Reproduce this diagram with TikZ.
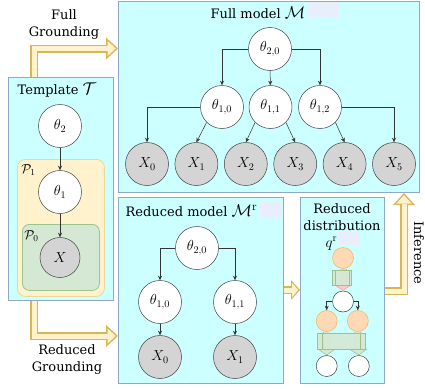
\documentclass[tikz,border=0pt]{standalone}
\usepackage{fix-cm}
\usepackage[no-math]{fontspec}
\setmainfont{DejaVu Serif}
\usepackage{amsmath,amssymb}
\usetikzlibrary{arrows.meta,positioning,calc}
\definecolor{boxfill}{HTML}{CCFFFF}
\definecolor{boxline}{HTML}{8FA8C8}
\definecolor{yfill}{HTML}{FFF2CC}
\definecolor{yline}{HTML}{D6B656}
\definecolor{plateline}{HTML}{EAD79A}
\definecolor{gfill}{HTML}{D5E8D4}
\definecolor{gline}{HTML}{9CC48A}
\definecolor{ofill}{HTML}{FFD9B3}
\definecolor{oline}{HTML}{E8B65E}
\definecolor{pfill}{HTML}{F8CECC}
\definecolor{pline}{HTML}{EDA5A2}
\definecolor{obsfill}{HTML}{D4D4D4}
\definecolor{lav}{HTML}{E8EEFB}
\newcommand{\titlemath}[1]{{\fontsize{17}{17}\selectfont$#1$}}
\tikzset{
  panel/.style={draw=boxline, fill=boxfill, anchor=north west, inner sep=0pt, line width=0.8pt},
  plate/.style={rounded corners=8pt, anchor=north west, inner sep=0pt, line width=0.8pt},
  latent/.style={circle, draw=black!75, fill=white, minimum size=43pt, inner sep=0pt, line width=0.5pt, font=\fontsize{14.5}{16}\selectfont},
  obsd/.style={latent, fill=obsfill},
  dot/.style={circle, draw=black!75, fill=white, minimum size=21pt, inner sep=0pt, line width=0.5pt},
  odot/.style={dot, draw=oline, fill=ofill},
  edge/.style={-{Stealth[length=4.5pt,width=4pt]}, line width=0.5pt, draw=black!80},
  fatout/.style={line width=8pt, draw=#1, -{Triangle[width=22pt,length=12pt,line width=0pt]}},
  fatin/.style={line width=5pt, draw=#1, shorten >=2.2pt, -{Triangle[width=15.2pt,length=8.3pt,line width=0pt]}},
  thinout/.style={line width=7pt, draw=#1, -{Triangle[width=18pt,length=6pt,line width=0pt]}},
  thinin/.style={line width=5.6pt, draw=#1, shorten >=0.85pt, -{Triangle[width=13.4pt,length=4.5pt,line width=0pt]}},
  procbox/.style={draw=gline, fill=gfill, fill opacity=0.9, inner sep=0pt, line width=0.6pt,
    path picture={\draw[gline, line width=0.6pt]
      ([xshift=#1]path picture bounding box.north west) -- ([xshift=#1]path picture bounding box.south west)
      ([xshift=-#1]path picture bounding box.north east) -- ([xshift=-#1]path picture bounding box.south east);}},
}
\begin{document}
\begin{tikzpicture}[x=1pt,y=-1pt,font=\fontsize{13}{17}\selectfont]
\useasboundingbox (0,0) rectangle (425,388);

\node[panel, minimum width=105pt, minimum height=223pt] (tmpl) at (8,77) {};
\node[panel, minimum width=301pt, minimum height=191pt] (full) at (118,1) {};
\node[panel, minimum width=165pt, minimum height=186pt] (red) at (118,197) {};
\node[panel, minimum width=84pt, minimum height=186pt] (dist) at (300,197) {};

\draw[fatout=yline] ($(tmpl.north west)+(26,0)$) |- (full.west |- 0,48.5);
\draw[fatin=yfill] ($(tmpl.north west)+(26,0)$) |- (full.west |- 0,48.5);
\draw[fatout=yline] ($(tmpl.south west)+(26,0)$) |- (red.west |- 0,336);
\draw[fatin=yfill] ($(tmpl.south west)+(26,0)$) |- (red.west |- 0,336);
\draw[fatout=yline, -{Triangle[width=20pt,length=9pt,line width=0pt]}] (red.east |- 0,290) -- (dist.west |- 0,290);
\draw[fatin=yfill, shorten >=1.8pt, -{Triangle[width=14pt,length=6pt,line width=0pt]}] (red.east |- 0,290) -- (dist.west |- 0,290);
\draw[fatout=yline] (dist.east |- 0,291) -| (404,193);
\draw[fatin=yfill] (dist.east |- 0,291) -| (404,193);

\node[align=center] (fglabel) at (64,24.5) {Full\\Grounding};
\node[align=center] (rglabel) at (67,359.5) {Reduced\\Grounding};
\node[rotate=-90] (inflabel) at (419,253) {Inference};

\node (ttmpl) at (57,90) {Template \titlemath{\mathcal{T}}};
\node[plate, draw=plateline, fill=yfill, minimum width=87pt, minimum height=137pt] (p1) at (17,159) {};
\node[plate, rounded corners=7pt, draw=gline, fill=gfill, minimum width=77pt, minimum height=66pt] (p0) at (22,224) {};
\node at (28.5,170) {$\mathcal{P}_1$};
\node at (31.5,236.5) {$\mathcal{P}_0$};
\node[latent] (t2) at (60,126) {$\theta_2$};
\node[latent] (t1) at (60,192) {$\theta_1$};
\node[obsd, minimum size=40pt] (tx) at (60,257.5) {$X$};
\draw[edge] (t2) -- (t1);
\draw[edge] (t1) -- (tx);

\node (tfull) at (258,12.5) {Full model \titlemath{\mathcal{M}}};
\fill[lav] (308,1.5) rectangle (340,17);
\node[latent] (f20) at (270,49) {$\theta_{2,0}$};
\node[latent] (f10) at (222,107) {$\theta_{1,0}$};
\node[latent] (f11) at (270.5,107) {$\theta_{1,1}$};
\node[latent] (f12) at (320,107) {$\theta_{1,2}$};
\node[obsd] (x0) at (147,164) {$X_0$};
\node[obsd] (x1) at (196.4,164) {$X_1$};
\node[obsd] (x2) at (245.8,164) {$X_2$};
\node[obsd] (x3) at (295.2,164) {$X_3$};
\node[obsd] (x4) at (344.6,164) {$X_4$};
\node[obsd] (x5) at (394,164) {$X_5$};
\draw[edge] (f20.west) -| (f10.north);
\draw[edge] (f20) -- (f11);
\draw[edge] (f20.east) -| (f12.north);
\draw[edge] (f10.west) -| (x0.north);
\draw[edge] (f10.south west) -- (x1.north);
\draw[edge] (f11.south west) -- (x2.north);
\draw[edge] (f11.south east) -- (x3.north);
\draw[edge] (f12.south east) -- (x4.north);
\draw[edge] (f12.east) -| (x5.north);

\node (tred) at (191.5,210.5) {Reduced model \titlemath{\mathcal{M}^{\mathrm{r}}}};
\fill[lav] (260,202) rectangle (282,217);
\node[latent] (r20) at (197,248) {$\theta_{2,0}$};
\node[latent] (r10) at (160,302) {$\theta_{1,0}$};
\node[latent] (r11) at (235,302) {$\theta_{1,1}$};
\node[obsd] (y0) at (160,357) {$X_0$};
\node[obsd] (y1) at (235,357) {$X_1$};
\draw[edge] (r20.west) -| (r10.north);
\draw[edge] (r20.east) -| (r11.north);
\draw[edge] (r10) -- (y0);
\draw[edge] (r11) -- (y1);

\node[align=center] (tdist) at (342,217) {Reduced\\distribution};
\node[inner sep=0pt] (tq) at (331.5,243.5) {{\fontsize{15}{15}\selectfont$q^{\mathrm{r}}$}};
\fill[lav] (338,232) rectangle (360,245);
\node[odot] (o1) at (343,258) {};
\node[dot] (w1) at (343,301.5) {};
\node[odot] (o2) at (326.7,321) {};
\node[odot] (o3) at (357.8,321) {};
\node[dot] (w2) at (326.7,366) {};
\node[dot] (w3) at (358.8,366) {};
\draw[thinout=pline] (o1.south) -- (w1.north);
\draw[thinin=pfill] (o1.south) -- (w1.north);
\draw[thinout=gline] (o2.south) -- (w2.north);
\draw[thinin=gfill] (o2.south) -- (w2.north);
\draw[thinout=gline] (o3.south) -- (w3.north);
\draw[thinin=gfill] (o3.south) -- (w3.north);
\node[procbox=2.5pt, minimum width=19pt, minimum height=14.3pt] (g1) at (342.2,277.8) {};
\node[procbox=5pt, minimum width=48.3pt, minimum height=16pt] (g2) at (341,341.3) {};
\draw[edge] (w1.west) -| (o2.north);
\draw[edge] (w1.east) -| (o3.north);
\end{tikzpicture}
\end{document}
